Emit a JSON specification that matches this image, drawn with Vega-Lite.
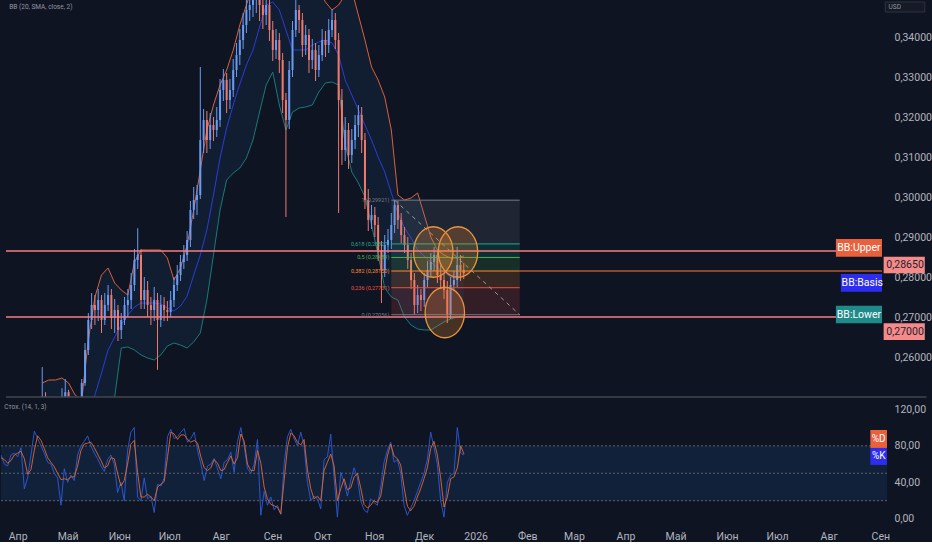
{
  "$schema": "https://vega.github.io/schema/vega-lite/v6.json",
  "background": "#0e1421",
  "padding": 0,
  "spacing": 3,
  "config": {
    "view": {"stroke": null},
    "font": "Roboto",
    "axis": {"domain": false, "ticks": false, "grid": false, "labelColor": "#b2b5be", "labelFontSize": 10.5, "labelFont": "Roboto"}
  },
  "datasets": {
    "candles": [
      {"date":"2025-04-13","o":0.2485,"h":0.2575,"l":0.247,"c":0.2502},
      {"date":"2025-04-15","o":0.2502,"h":0.2512,"l":0.247,"c":0.2488},
      {"date":"2025-04-17","o":0.2488,"h":0.2498,"l":0.2465,"c":0.2478},
      {"date":"2025-04-19","o":0.2478,"h":0.2496,"l":0.246,"c":0.2485},
      {"date":"2025-04-21","o":0.2485,"h":0.2499,"l":0.2462,"c":0.2474},
      {"date":"2025-04-23","o":0.2474,"h":0.2495,"l":0.2458,"c":0.2483},
      {"date":"2025-04-25","o":0.2483,"h":0.2522,"l":0.247,"c":0.2491},
      {"date":"2025-04-27","o":0.2491,"h":0.2545,"l":0.248,"c":0.2512},
      {"date":"2025-04-29","o":0.2512,"h":0.2518,"l":0.2468,"c":0.2482},
      {"date":"2025-05-01","o":0.2482,"h":0.2497,"l":0.2455,"c":0.2468},
      {"date":"2025-05-03","o":0.2468,"h":0.2494,"l":0.2452,"c":0.2479},
      {"date":"2025-05-05","o":0.2479,"h":0.2498,"l":0.2466,"c":0.2492},
      {"date":"2025-05-07","o":0.2492,"h":0.2545,"l":0.2485,"c":0.2535},
      {"date":"2025-05-09","o":0.2535,"h":0.2635,"l":0.2528,"c":0.26175},
      {"date":"2025-05-11","o":0.26175,"h":0.271,"l":0.2605,"c":0.26925},
      {"date":"2025-05-13","o":0.26925,"h":0.276,"l":0.267,"c":0.273},
      {"date":"2025-05-15","o":0.273,"h":0.2755,"l":0.268,"c":0.27175},
      {"date":"2025-05-17","o":0.27175,"h":0.277,"l":0.269,"c":0.27425},
      {"date":"2025-05-19","o":0.27425,"h":0.2755,"l":0.266,"c":0.26925},
      {"date":"2025-05-21","o":0.26925,"h":0.276,"l":0.268,"c":0.273},
      {"date":"2025-05-23","o":0.273,"h":0.278,"l":0.2715,"c":0.2755},
      {"date":"2025-05-25","o":0.2755,"h":0.277,"l":0.267,"c":0.26975},
      {"date":"2025-05-27","o":0.26975,"h":0.2745,"l":0.266,"c":0.27175},
      {"date":"2025-05-29","o":0.27175,"h":0.273,"l":0.264,"c":0.26675},
      {"date":"2025-05-31","o":0.26675,"h":0.271,"l":0.2645,"c":0.26925},
      {"date":"2025-06-02","o":0.26925,"h":0.275,"l":0.268,"c":0.273},
      {"date":"2025-06-04","o":0.273,"h":0.277,"l":0.27,"c":0.27425},
      {"date":"2025-06-06","o":0.27425,"h":0.281,"l":0.272,"c":0.278},
      {"date":"2025-06-08","o":0.278,"h":0.287,"l":0.2765,"c":0.28425},
      {"date":"2025-06-10","o":0.28425,"h":0.2922,"l":0.282,"c":0.2855},
      {"date":"2025-06-12","o":0.2855,"h":0.287,"l":0.272,"c":0.27425},
      {"date":"2025-06-14","o":0.27425,"h":0.28,"l":0.272,"c":0.27675},
      {"date":"2025-06-16","o":0.27675,"h":0.279,"l":0.27,"c":0.273},
      {"date":"2025-06-18","o":0.273,"h":0.275,"l":0.268,"c":0.27175},
      {"date":"2025-06-20","o":0.27175,"h":0.2775,"l":0.269,"c":0.27425},
      {"date":"2025-06-22","o":0.27425,"h":0.276,"l":0.2568,"c":0.26925},
      {"date":"2025-06-24","o":0.26925,"h":0.2755,"l":0.2675,"c":0.273},
      {"date":"2025-06-26","o":0.273,"h":0.275,"l":0.269,"c":0.27175},
      {"date":"2025-06-28","o":0.27175,"h":0.274,"l":0.269,"c":0.27125},
      {"date":"2025-06-30","o":0.27125,"h":0.2765,"l":0.27,"c":0.27425},
      {"date":"2025-07-02","o":0.27425,"h":0.28,"l":0.2725,"c":0.278},
      {"date":"2025-07-04","o":0.278,"h":0.283,"l":0.2765,"c":0.2805},
      {"date":"2025-07-06","o":0.2805,"h":0.2855,"l":0.279,"c":0.28375},
      {"date":"2025-07-08","o":0.28375,"h":0.288,"l":0.282,"c":0.2855},
      {"date":"2025-07-10","o":0.2855,"h":0.2915,"l":0.284,"c":0.28925},
      {"date":"2025-07-12","o":0.28925,"h":0.299,"l":0.2875,"c":0.29675},
      {"date":"2025-07-14","o":0.29675,"h":0.3025,"l":0.2945,"c":0.29925},
      {"date":"2025-07-16","o":0.29925,"h":0.303,"l":0.2955,"c":0.3005},
      {"date":"2025-07-18","o":0.3005,"h":0.3325,"l":0.2995,"c":0.31425},
      {"date":"2025-07-20","o":0.31425,"h":0.322,"l":0.311,"c":0.31925},
      {"date":"2025-07-22","o":0.31925,"h":0.3215,"l":0.311,"c":0.31425},
      {"date":"2025-07-24","o":0.31425,"h":0.321,"l":0.312,"c":0.318},
      {"date":"2025-07-26","o":0.318,"h":0.32,"l":0.314,"c":0.31675},
      {"date":"2025-07-28","o":0.31675,"h":0.3225,"l":0.315,"c":0.31925},
      {"date":"2025-07-30","o":0.31925,"h":0.3295,"l":0.3175,"c":0.32675},
      {"date":"2025-08-01","o":0.32675,"h":0.332,"l":0.324,"c":0.32925},
      {"date":"2025-08-03","o":0.32925,"h":0.331,"l":0.321,"c":0.32425},
      {"date":"2025-08-05","o":0.32425,"h":0.3295,"l":0.322,"c":0.32675},
      {"date":"2025-08-07","o":0.32675,"h":0.3345,"l":0.325,"c":0.33175},
      {"date":"2025-08-09","o":0.33175,"h":0.3385,"l":0.33,"c":0.3355},
      {"date":"2025-08-11","o":0.3355,"h":0.342,"l":0.333,"c":0.33925},
      {"date":"2025-08-13","o":0.33925,"h":0.346,"l":0.337,"c":0.343},
      {"date":"2025-08-15","o":0.343,"h":0.35,"l":0.341,"c":0.34675},
      {"date":"2025-08-17","o":0.34675,"h":0.352,"l":0.344,"c":0.348},
      {"date":"2025-08-19","o":0.348,"h":0.353,"l":0.345,"c":0.34925},
      {"date":"2025-08-21","o":0.34925,"h":0.354,"l":0.346,"c":0.3505},
      {"date":"2025-08-23","o":0.3505,"h":0.3535,"l":0.344,"c":0.348},
      {"date":"2025-08-25","o":0.348,"h":0.351,"l":0.342,"c":0.3455},
      {"date":"2025-08-27","o":0.3455,"h":0.352,"l":0.343,"c":0.348},
      {"date":"2025-08-29","o":0.348,"h":0.35,"l":0.339,"c":0.34175},
      {"date":"2025-08-31","o":0.34175,"h":0.344,"l":0.334,"c":0.33675},
      {"date":"2025-09-02","o":0.33675,"h":0.342,"l":0.3345,"c":0.33925},
      {"date":"2025-09-04","o":0.33925,"h":0.341,"l":0.331,"c":0.33425},
      {"date":"2025-09-06","o":0.33425,"h":0.336,"l":0.321,"c":0.32425},
      {"date":"2025-09-08","o":0.32425,"h":0.326,"l":0.295,"c":0.31925},
      {"date":"2025-09-10","o":0.31925,"h":0.334,"l":0.317,"c":0.33175},
      {"date":"2025-09-12","o":0.33175,"h":0.344,"l":0.33,"c":0.34175},
      {"date":"2025-09-14","o":0.34175,"h":0.35,"l":0.34,"c":0.34675},
      {"date":"2025-09-16","o":0.34675,"h":0.348,"l":0.341,"c":0.34425},
      {"date":"2025-09-18","o":0.34425,"h":0.346,"l":0.335,"c":0.338},
      {"date":"2025-09-20","o":0.338,"h":0.343,"l":0.3355,"c":0.3405},
      {"date":"2025-09-22","o":0.3405,"h":0.342,"l":0.331,"c":0.33425},
      {"date":"2025-09-24","o":0.33425,"h":0.3395,"l":0.332,"c":0.33675},
      {"date":"2025-09-26","o":0.33675,"h":0.3385,"l":0.329,"c":0.33175},
      {"date":"2025-09-28","o":0.33175,"h":0.338,"l":0.33,"c":0.3355},
      {"date":"2025-09-30","o":0.3355,"h":0.342,"l":0.334,"c":0.33925},
      {"date":"2025-10-02","o":0.33925,"h":0.3415,"l":0.335,"c":0.338},
      {"date":"2025-10-04","o":0.338,"h":0.3445,"l":0.336,"c":0.34175},
      {"date":"2025-10-06","o":0.34175,"h":0.347,"l":0.34,"c":0.34425},
      {"date":"2025-10-08","o":0.34425,"h":0.346,"l":0.337,"c":0.33925},
      {"date":"2025-10-10","o":0.33925,"h":0.341,"l":0.296,"c":0.32425},
      {"date":"2025-10-12","o":0.32425,"h":0.327,"l":0.308,"c":0.31175},
      {"date":"2025-10-14","o":0.31175,"h":0.32,"l":0.309,"c":0.31675},
      {"date":"2025-10-16","o":0.31675,"h":0.3185,"l":0.307,"c":0.3105},
      {"date":"2025-10-18","o":0.3105,"h":0.317,"l":0.3085,"c":0.31425},
      {"date":"2025-10-20","o":0.31425,"h":0.3205,"l":0.312,"c":0.318},
      {"date":"2025-10-22","o":0.318,"h":0.323,"l":0.315,"c":0.3205},
      {"date":"2025-10-24","o":0.3205,"h":0.3225,"l":0.311,"c":0.31425},
      {"date":"2025-10-26","o":0.31425,"h":0.316,"l":0.297,"c":0.29925},
      {"date":"2025-10-28","o":0.29925,"h":0.302,"l":0.2915,"c":0.29425},
      {"date":"2025-10-30","o":0.29425,"h":0.298,"l":0.292,"c":0.2955},
      {"date":"2025-11-01","o":0.2955,"h":0.2975,"l":0.29,"c":0.293},
      {"date":"2025-11-03","o":0.293,"h":0.295,"l":0.284,"c":0.28675},
      {"date":"2025-11-05","o":0.28675,"h":0.289,"l":0.2735,"c":0.28175},
      {"date":"2025-11-07","o":0.28175,"h":0.2905,"l":0.28,"c":0.288},
      {"date":"2025-11-09","o":0.288,"h":0.292,"l":0.286,"c":0.28925},
      {"date":"2025-11-11","o":0.28925,"h":0.296,"l":0.287,"c":0.293},
      {"date":"2025-11-13","o":0.293,"h":0.29921,"l":0.291,"c":0.298},
      {"date":"2025-11-15","o":0.298,"h":0.299,"l":0.292,"c":0.29425},
      {"date":"2025-11-17","o":0.29425,"h":0.296,"l":0.2885,"c":0.2905},
      {"date":"2025-11-19","o":0.2905,"h":0.2925,"l":0.286,"c":0.288},
      {"date":"2025-11-21","o":0.288,"h":0.29,"l":0.282,"c":0.28425},
      {"date":"2025-11-23","o":0.28425,"h":0.286,"l":0.277,"c":0.27925},
      {"date":"2025-11-25","o":0.27925,"h":0.281,"l":0.27056,"c":0.273},
      {"date":"2025-11-27","o":0.273,"h":0.278,"l":0.271,"c":0.2755},
      {"date":"2025-11-29","o":0.2755,"h":0.277,"l":0.2715,"c":0.27425},
      {"date":"2025-12-01","o":0.27425,"h":0.281,"l":0.2725,"c":0.27925},
      {"date":"2025-12-03","o":0.27925,"h":0.284,"l":0.2775,"c":0.28175},
      {"date":"2025-12-05","o":0.28175,"h":0.286,"l":0.28,"c":0.28375},
      {"date":"2025-12-07","o":0.28375,"h":0.2875,"l":0.2815,"c":0.2855},
      {"date":"2025-12-09","o":0.2855,"h":0.2865,"l":0.2785,"c":0.2805},
      {"date":"2025-12-11","o":0.2805,"h":0.283,"l":0.277,"c":0.27925},
      {"date":"2025-12-13","o":0.27925,"h":0.281,"l":0.2745,"c":0.27675},
      {"date":"2025-12-15","o":0.27675,"h":0.279,"l":0.2685,"c":0.2705},
      {"date":"2025-12-17","o":0.2705,"h":0.28,"l":0.2695,"c":0.278},
      {"date":"2025-12-19","o":0.278,"h":0.2815,"l":0.2765,"c":0.27925},
      {"date":"2025-12-21","o":0.27925,"h":0.2875,"l":0.2775,"c":0.283},
      {"date":"2025-12-23","o":0.283,"h":0.2855,"l":0.279,"c":0.28175},
      {"date":"2025-12-25","o":0.28175,"h":0.2835,"l":0.2795,"c":0.281}
    ],
    "bb": [
      {"date":"2025-04-13","u":0.2535,"b":0.23925,"l":0.23175},
      {"date":"2025-04-17","u":0.25425,"b":0.24,"l":0.23175},
      {"date":"2025-04-21","u":0.25425,"b":0.24175,"l":0.23175},
      {"date":"2025-04-25","u":0.25475,"b":0.24225,"l":0.23175},
      {"date":"2025-04-29","u":0.2535,"b":0.243,"l":0.23175},
      {"date":"2025-05-03","u":0.2505,"b":0.2435,"l":0.233},
      {"date":"2025-05-07","u":0.24925,"b":0.24425,"l":0.23425},
      {"date":"2025-05-11","u":0.26425,"b":0.24675,"l":0.23425},
      {"date":"2025-05-15","u":0.275,"b":0.2505,"l":0.23425},
      {"date":"2025-05-19","u":0.2805,"b":0.256,"l":0.23675},
      {"date":"2025-05-23","u":0.28225,"b":0.26175,"l":0.24175},
      {"date":"2025-05-27","u":0.2785,"b":0.265,"l":0.25},
      {"date":"2025-05-31","u":0.27675,"b":0.268,"l":0.26225},
      {"date":"2025-06-04","u":0.2755,"b":0.2705,"l":0.2625},
      {"date":"2025-06-08","u":0.28375,"b":0.2725,"l":0.26175},
      {"date":"2025-06-12","u":0.28675,"b":0.2735,"l":0.2605},
      {"date":"2025-06-16","u":0.28675,"b":0.2735,"l":0.25975},
      {"date":"2025-06-20","u":0.28675,"b":0.2735,"l":0.25925},
      {"date":"2025-06-24","u":0.28675,"b":0.27325,"l":0.2605},
      {"date":"2025-06-28","u":0.28475,"b":0.27225,"l":0.26275},
      {"date":"2025-07-02","u":0.27925,"b":0.2715,"l":0.2635},
      {"date":"2025-07-06","u":0.28225,"b":0.27275,"l":0.263},
      {"date":"2025-07-10","u":0.288,"b":0.27525,"l":0.26225},
      {"date":"2025-07-14","u":0.29675,"b":0.2805,"l":0.26375},
      {"date":"2025-07-18","u":0.30675,"b":0.2855,"l":0.266},
      {"date":"2025-07-22","u":0.31675,"b":0.29175,"l":0.27425},
      {"date":"2025-07-26","u":0.323,"b":0.3005,"l":0.2855},
      {"date":"2025-07-30","u":0.328,"b":0.30975,"l":0.29675},
      {"date":"2025-08-03","u":0.33175,"b":0.31725,"l":0.30425},
      {"date":"2025-08-07","u":0.33675,"b":0.323,"l":0.306},
      {"date":"2025-08-11","u":0.343,"b":0.32825,"l":0.30725},
      {"date":"2025-08-15","u":0.348,"b":0.333,"l":0.30975},
      {"date":"2025-08-19","u":0.353,"b":0.33675,"l":0.31425},
      {"date":"2025-08-23","u":0.35675,"b":0.3425,"l":0.32125},
      {"date":"2025-08-27","u":0.35925,"b":0.348,"l":0.328},
      {"date":"2025-08-31","u":0.35925,"b":0.34875,"l":0.33125},
      {"date":"2025-09-04","u":0.35675,"b":0.34675,"l":0.323},
      {"date":"2025-09-08","u":0.35425,"b":0.34175,"l":0.31675},
      {"date":"2025-09-12","u":0.3555,"b":0.33675,"l":0.32125},
      {"date":"2025-09-16","u":0.35675,"b":0.33675,"l":0.32225},
      {"date":"2025-09-20","u":0.3555,"b":0.33675,"l":0.3225},
      {"date":"2025-09-24","u":0.35425,"b":0.338,"l":0.323},
      {"date":"2025-09-28","u":0.35175,"b":0.33875,"l":0.32625},
      {"date":"2025-10-02","u":0.34875,"b":0.33925,"l":0.3285},
      {"date":"2025-10-06","u":0.34675,"b":0.3385,"l":0.32875},
      {"date":"2025-10-10","u":0.348,"b":0.3355,"l":0.328},
      {"date":"2025-10-14","u":0.3505,"b":0.32925,"l":0.313},
      {"date":"2025-10-18","u":0.35175,"b":0.3255,"l":0.30625},
      {"date":"2025-10-22","u":0.3455,"b":0.32175,"l":0.3035},
      {"date":"2025-10-26","u":0.33925,"b":0.318,"l":0.3},
      {"date":"2025-10-30","u":0.3325,"b":0.31425,"l":0.293},
      {"date":"2025-11-03","u":0.32925,"b":0.31,"l":0.2855},
      {"date":"2025-11-07","u":0.325,"b":0.30625,"l":0.27725},
      {"date":"2025-11-11","u":0.31675,"b":0.301,"l":0.275},
      {"date":"2025-11-15","u":0.3005,"b":0.296,"l":0.27425},
      {"date":"2025-11-19","u":0.29925,"b":0.29225,"l":0.27},
      {"date":"2025-11-23","u":0.29975,"b":0.28975,"l":0.268},
      {"date":"2025-11-27","u":0.301,"b":0.28675,"l":0.267},
      {"date":"2025-12-01","u":0.2955,"b":0.28525,"l":0.26675},
      {"date":"2025-12-05","u":0.29,"b":0.28375,"l":0.26675},
      {"date":"2025-12-09","u":0.28675,"b":0.28225,"l":0.26775},
      {"date":"2025-12-13","u":0.2855,"b":0.28125,"l":0.26875},
      {"date":"2025-12-17","u":0.28475,"b":0.28,"l":0.2695},
      {"date":"2025-12-21","u":0.28475,"b":0.27975,"l":0.27},
      {"date":"2025-12-25","u":0.28525,"b":0.28025,"l":0.27025}
    ],
    "stoch": [
      {"date":"2025-03-22","k":70,"d":67},{"date":"2025-03-24","k":60,"d":65},{"date":"2025-03-26","k":58,"d":61},
      {"date":"2025-03-28","k":70,"d":64},{"date":"2025-03-30","k":72,"d":70},{"date":"2025-04-01","k":68,"d":72},
      {"date":"2025-04-03","k":78,"d":74},{"date":"2025-04-05","k":33,"d":66},{"date":"2025-04-07","k":45,"d":49},
      {"date":"2025-04-09","k":70,"d":54},{"date":"2025-04-11","k":96,"d":75},{"date":"2025-04-13","k":88,"d":91},
      {"date":"2025-04-15","k":80,"d":86},{"date":"2025-04-17","k":72,"d":77},{"date":"2025-04-19","k":62,"d":67},
      {"date":"2025-04-21","k":60,"d":62},{"date":"2025-04-23","k":50,"d":57},{"date":"2025-04-25","k":45,"d":50},
      {"date":"2025-04-27","k":15,"d":43},{"date":"2025-04-29","k":55,"d":44},{"date":"2025-05-01","k":40,"d":43},
      {"date":"2025-05-03","k":48,"d":46},{"date":"2025-05-05","k":42,"d":46},{"date":"2025-05-07","k":70,"d":58},
      {"date":"2025-05-09","k":80,"d":75},{"date":"2025-05-11","k":85,"d":82},{"date":"2025-05-13","k":91,"d":83},
      {"date":"2025-05-15","k":80,"d":84},{"date":"2025-05-17","k":72,"d":78},{"date":"2025-05-19","k":66,"d":71},
      {"date":"2025-05-21","k":58,"d":64},{"date":"2025-05-23","k":52,"d":56},{"date":"2025-05-25","k":65,"d":58},
      {"date":"2025-05-27","k":70,"d":67},{"date":"2025-05-29","k":60,"d":66},{"date":"2025-05-31","k":29,"d":50},
      {"date":"2025-06-02","k":40,"d":36},{"date":"2025-06-04","k":20,"d":42},{"date":"2025-06-06","k":75,"d":60},
      {"date":"2025-06-08","k":95,"d":82},{"date":"2025-06-10","k":100,"d":86},{"date":"2025-06-12","k":24,"d":51},
      {"date":"2025-06-14","k":20,"d":24},{"date":"2025-06-16","k":45,"d":24},{"date":"2025-06-18","k":22,"d":27},
      {"date":"2025-06-20","k":25,"d":24},{"date":"2025-06-22","k":7,"d":20},{"date":"2025-06-24","k":38,"d":35},
      {"date":"2025-06-26","k":36,"d":38},{"date":"2025-06-28","k":45,"d":41},{"date":"2025-06-30","k":90,"d":68},
      {"date":"2025-07-02","k":98,"d":95},{"date":"2025-07-04","k":88,"d":93},{"date":"2025-07-06","k":90,"d":87},
      {"date":"2025-07-08","k":95,"d":92},{"date":"2025-07-10","k":99,"d":92},{"date":"2025-07-12","k":84,"d":87},
      {"date":"2025-07-14","k":88,"d":84},{"date":"2025-07-16","k":95,"d":86},{"date":"2025-07-18","k":75,"d":83},
      {"date":"2025-07-20","k":60,"d":68},{"date":"2025-07-22","k":42,"d":56},{"date":"2025-07-24","k":58,"d":53},
      {"date":"2025-07-26","k":60,"d":56},{"date":"2025-07-28","k":66,"d":65},{"date":"2025-07-30","k":55,"d":61},
      {"date":"2025-08-01","k":44,"d":53},{"date":"2025-08-03","k":62,"d":54},{"date":"2025-08-05","k":65,"d":62},
      {"date":"2025-08-07","k":73,"d":69},{"date":"2025-08-09","k":51,"d":60},{"date":"2025-08-11","k":85,"d":67},
      {"date":"2025-08-13","k":100,"d":93},{"date":"2025-08-15","k":80,"d":85},{"date":"2025-08-17","k":55,"d":60},
      {"date":"2025-08-19","k":50,"d":53},{"date":"2025-08-21","k":60,"d":53},{"date":"2025-08-23","k":87,"d":75},
      {"date":"2025-08-25","k":4,"d":61},{"date":"2025-08-27","k":30,"d":35},{"date":"2025-08-29","k":15,"d":22},
      {"date":"2025-08-31","k":24,"d":16},{"date":"2025-09-02","k":10,"d":14.5},{"date":"2025-09-04","k":15,"d":12.7},
      {"date":"2025-09-06","k":5,"d":5.5},{"date":"2025-09-08","k":60,"d":42},{"date":"2025-09-10","k":90,"d":78},
      {"date":"2025-09-12","k":98,"d":94},{"date":"2025-09-14","k":88,"d":91},{"date":"2025-09-16","k":80,"d":84},
      {"date":"2025-09-18","k":95,"d":81},{"date":"2025-09-20","k":80,"d":87},{"date":"2025-09-22","k":40,"d":54},
      {"date":"2025-09-24","k":20,"d":33},{"date":"2025-09-26","k":25,"d":22},{"date":"2025-09-28","k":22,"d":25},
      {"date":"2025-09-30","k":11,"d":20},{"date":"2025-10-02","k":65,"d":53},{"date":"2025-10-04","k":68,"d":62},
      {"date":"2025-10-06","k":93,"d":71},{"date":"2025-10-08","k":45,"d":58},{"date":"2025-10-10","k":2,"d":20},
      {"date":"2025-10-12","k":51,"d":33},{"date":"2025-10-14","k":40,"d":44},{"date":"2025-10-16","k":25,"d":32},
      {"date":"2025-10-18","k":42,"d":34},{"date":"2025-10-20","k":56,"d":46},{"date":"2025-10-22","k":45,"d":50},
      {"date":"2025-10-24","k":20,"d":34},{"date":"2025-10-26","k":10,"d":16},{"date":"2025-10-28","k":7,"d":12},
      {"date":"2025-10-30","k":22,"d":15},{"date":"2025-11-01","k":18,"d":20},{"date":"2025-11-03","k":15,"d":18},
      {"date":"2025-11-05","k":35,"d":25},{"date":"2025-11-07","k":62,"d":48},{"date":"2025-11-09","k":75,"d":69},
      {"date":"2025-11-11","k":84,"d":82},{"date":"2025-11-13","k":62,"d":69},{"date":"2025-11-15","k":65,"d":66},
      {"date":"2025-11-17","k":50,"d":59},{"date":"2025-11-19","k":15,"d":35},{"date":"2025-11-21","k":4,"d":14},
      {"date":"2025-11-23","k":12,"d":9},{"date":"2025-11-25","k":20,"d":14},{"date":"2025-11-27","k":30,"d":24},
      {"date":"2025-11-29","k":40,"d":33},{"date":"2025-12-01","k":50,"d":44},{"date":"2025-12-03","k":65,"d":56},
      {"date":"2025-12-05","k":95,"d":77},{"date":"2025-12-07","k":78,"d":85},{"date":"2025-12-09","k":60,"d":70},
      {"date":"2025-12-11","k":20,"d":45},{"date":"2025-12-13","k":2,"d":13},{"date":"2025-12-15","k":40,"d":24},
      {"date":"2025-12-17","k":48,"d":44},{"date":"2025-12-19","k":50,"d":46},{"date":"2025-12-21","k":100,"d":56},
      {"date":"2025-12-23","k":72,"d":80},{"date":"2025-12-25","k":70,"d":71}
    ],
    "fib": [
      {"lv":"1","p":0.29921,"lo":0.28827,"label":"1 (0,29921)","date":"2025-11-11","date2":"2026-01-28"},
      {"lv":"0.618","p":0.28827,"lo":0.28489,"label":"0,618 (0,28827)","date":"2025-11-11","date2":"2026-01-28"},
      {"lv":"0.5","p":0.28489,"lo":0.2815,"label":"0,5 (0,28489)","date":"2025-11-11","date2":"2026-01-28"},
      {"lv":"0.382","p":0.2815,"lo":0.27732,"label":"0,382 (0,28150)","date":"2025-11-11","date2":"2026-01-28"},
      {"lv":"0.236","p":0.27732,"lo":0.27056,"label":"0,236 (0,27731)","date":"2025-11-11","date2":"2026-01-28"},
      {"lv":"0","p":0.27056,"lo":null,"label":"0 (0,27056)","date":"2025-11-11","date2":"2026-01-28"}
    ],
    "tags": [
      {"date":"2026-08-08","date2":"2026-09-05","mid":"2026-08-22","y1":0.2895,"y2":0.28508,"yc":0.28729,"label":"BB:Upper","kind":"upper"},
      {"date":"2026-08-11","date2":"2026-09-05","mid":"2026-08-24","y1":0.28075,"y2":0.27633,"yc":0.27854,"label":"BB:Basis","kind":"basis"},
      {"date":"2026-08-08","date2":"2026-09-05","mid":"2026-08-22","y1":0.27283,"y2":0.26842,"yc":0.27062,"label":"BB:Lower","kind":"lower"},
      {"date":"2026-09-06","date2":"2026-10-01","mid":"2026-09-19","y1":0.28508,"y2":0.28092,"yc":0.283,"label":"0,28650","kind":"price"},
      {"date":"2026-09-06","date2":"2026-10-01","mid":"2026-09-19","y1":0.26842,"y2":0.26425,"yc":0.26633,"label":"0,27000","kind":"price"}
    ]
  },
  "vconcat": [
    {
      "width": 886,
      "height": 397,
      "encoding": {
        "x": {
          "field": "date",
          "type": "temporal",
          "title": null,
          "axis": null,
          "scale": {"domain": [{"year": 2025, "month": 3, "date": 22}, {"year": 2026, "month": 9, "date": 5}], "nice": false}
        }
      },
      "layer": [
        {
          "data": {"name": "bb"},
          "mark": {"type": "area", "clip": true, "color": "#142640", "opacity": 0.55},
          "encoding": {
            "y": {
              "field": "u",
              "type": "quantitative",
              "title": null,
              "scale": {"domain": [0.25, 0.34925], "zero": false, "nice": false},
              "axis": {
                "orient": "right",
                "title": null,
                "values": [0.26, 0.27, 0.28, 0.29, 0.3, 0.31, 0.32, 0.33, 0.34],
                "labelExpr": "replace(format(datum.value, '.5f'), '.', ',')",
                "labelPadding": 7
              }
            },
            "y2": {"field": "l"}
          }
        },
        {
          "data": {"name": "bb"},
          "mark": {"type": "line", "clip": true, "color": "#d9603b", "strokeWidth": 1},
          "encoding": {"y": {"field": "u", "type": "quantitative", "title": null}}
        },
        {
          "data": {"name": "bb"},
          "mark": {"type": "line", "clip": true, "color": "#1a7a78", "strokeWidth": 1},
          "encoding": {"y": {"field": "l", "type": "quantitative", "title": null}}
        },
        {
          "data": {"name": "bb"},
          "mark": {"type": "line", "clip": true, "color": "#2b3bd6", "strokeWidth": 1},
          "encoding": {"y": {"field": "b", "type": "quantitative", "title": null}}
        },
        {
          "data": {"name": "candles"},
          "mark": {"type": "rule", "clip": true, "strokeWidth": 1},
          "encoding": {
            "y": {"field": "l", "type": "quantitative", "title": null},
            "y2": {"field": "h"},
            "color": {"condition": {"test": "datum.c >= datum.o", "value": "#6a9bf2"}, "value": "#ef7a6c"}
          }
        },
        {
          "data": {"name": "candles"},
          "mark": {"type": "bar", "clip": true, "size": 2},
          "encoding": {
            "y": {"field": "o", "type": "quantitative", "title": null},
            "y2": {"field": "c"},
            "color": {"condition": {"test": "datum.c >= datum.o", "value": "#6a9bf2"}, "value": "#ef7a6c"}
          }
        },
        {
          "data": {"name": "fib"},
          "transform": [{"filter": "datum.lo != null"}],
          "mark": {"type": "rect", "opacity": 0.17},
          "encoding": {
            "x2": {"field": "date2"},
            "y": {"field": "p", "type": "quantitative", "title": null},
            "y2": {"field": "lo"},
            "color": {
              "field": "lv",
              "type": "nominal",
              "legend": null,
              "scale": {
                "domain": ["1", "0.618", "0.5", "0.382", "0.236", "0"],
                "range": ["#787b86", "#22ab94", "#4caf50", "#ff8a2e", "#f0503f", "#787b86"]
              }
            }
          }
        },
        {
          "data": {"name": "fib"},
          "mark": {"type": "rule", "strokeWidth": 1},
          "encoding": {
            "x2": {"field": "date2"},
            "y": {"field": "p", "type": "quantitative", "title": null},
            "color": {"field": "lv", "type": "nominal", "legend": null}
          }
        },
        {
          "data": {"values": [{"date": "2026-01-28", "date2": "2026-09-05", "p": 0.2815}]},
          "mark": {"type": "rule", "color": "#ff7b3a", "strokeWidth": 1.2},
          "encoding": {
            "x2": {"field": "date2"},
            "y": {"field": "p", "type": "quantitative", "title": null}
          }
        },
        {
          "data": {"values": [
            {"date": "2025-03-22", "date2": "2026-09-05", "p": 0.2865},
            {"date": "2025-03-22", "date2": "2026-09-05", "p": 0.27}
          ]},
          "mark": {"type": "rule", "color": "#f77c80", "strokeWidth": 1.5},
          "encoding": {
            "x2": {"field": "date2"},
            "y": {"field": "p", "type": "quantitative", "title": null}
          }
        },
        {
          "data": {"values": [
            {"date": "2025-11-13", "p": 0.29921},
            {"date": "2026-01-28", "p": 0.27056}
          ]},
          "mark": {"type": "line", "color": "#9598a1", "strokeWidth": 1, "strokeDash": [4, 4]},
          "encoding": {"y": {"field": "p", "type": "quantitative", "title": null}}
        },
        {
          "data": {"values": [
            {"date": "2025-12-06T12:00:00Z", "p": 0.28625},
            {"date": "2025-12-21T12:00:00Z", "p": 0.28625},
            {"date": "2025-12-13T12:00:00Z", "p": 0.27113}
          ]},
          "mark": {
            "type": "point",
            "shape": "M0.78,0C0.78,0.5523,0.4308,1,0,1C-0.4308,1,-0.78,0.5523,-0.78,0C-0.78,-0.5523,-0.4308,-1,0,-1C0.4308,-1,0.78,-0.5523,0.78,0Z",
            "size": 2550,
            "filled": true,
            "fill": "#f08c30",
            "fillOpacity": 0.25,
            "stroke": "#e8943c",
            "strokeWidth": 1.3,
            "opacity": 1
          },
          "encoding": {"y": {"field": "p", "type": "quantitative", "title": null}}
        },
        {
          "data": {"name": "fib"},
          "mark": {"type": "text", "align": "right", "baseline": "middle", "dx": -2, "fontSize": 5.5},
          "encoding": {
            "y": {"field": "p", "type": "quantitative", "title": null},
            "text": {"field": "label"},
            "color": {"field": "lv", "type": "nominal", "legend": null}
          }
        },
        {
          "data": {"name": "tags"},
          "mark": {"type": "rect", "clip": false},
          "encoding": {
            "x2": {"field": "date2"},
            "y": {"field": "y1", "type": "quantitative", "title": null},
            "y2": {"field": "y2"},
            "fill": {
              "field": "kind",
              "type": "nominal",
              "legend": null,
              "scale": {"domain": ["upper", "basis", "lower", "price"], "range": ["#e8603c", "#2d2df0", "#1e8a8a", "#f58a8a"]}
            }
          }
        },
        {
          "data": {"name": "tags"},
          "transform": [{"filter": "datum.kind != 'price'"}],
          "mark": {"type": "text", "color": "#ffffff", "fontSize": 10.5, "align": "center", "baseline": "middle"},
          "encoding": {
            "x": {"field": "mid", "type": "temporal"},
            "y": {"field": "yc", "type": "quantitative", "title": null},
            "text": {"field": "label"}
          }
        },
        {
          "data": {"name": "tags"},
          "transform": [{"filter": "datum.kind == 'price'"}],
          "mark": {"type": "text", "color": "#1e222d", "fontSize": 10.5, "align": "center", "baseline": "middle"},
          "encoding": {
            "x": {"field": "mid", "type": "temporal"},
            "y": {"field": "yc", "type": "quantitative", "title": null},
            "text": {"field": "label"}
          }
        },
        {
          "data": {"values": [{"date": "2026-09-07", "date2": "2026-10-01", "p": 0.34875, "p2": 0.34625}]},
          "mark": {"type": "rect", "fill": "#151a26", "stroke": "#2e3340", "strokeWidth": 1},
          "encoding": {
            "x2": {"field": "date2"},
            "y": {"field": "p", "type": "quantitative", "title": null},
            "y2": {"field": "p2"}
          }
        },
        {
          "data": {"values": [
            {"date": "2026-09-09", "p": 0.3475, "t": "USD"},
            {"date": "2025-03-24", "p": 0.3475, "t": "BB (20, SMA, close, 2)"}
          ]},
          "mark": {"type": "text", "align": "left", "baseline": "middle", "fontSize": 6.5, "color": "#9598a1"},
          "encoding": {
            "y": {"field": "p", "type": "quantitative", "title": null},
            "text": {"field": "t"}
          }
        },
        {
          "data": {"values": [{"date": "2025-03-22", "date2": "2026-10-02", "p": 0.25}]},
          "mark": {"type": "rule", "color": "#434651", "strokeWidth": 1.5, "clip": false},
          "encoding": {
            "x2": {"field": "date2"},
            "y": {"field": "p", "type": "quantitative", "title": null}
          }
        }
      ]
    },
    {
      "width": 886,
      "height": 127,
      "encoding": {
        "x": {
          "field": "date",
          "type": "temporal",
          "title": null,
          "scale": {"domain": [{"year": 2025, "month": 3, "date": 22}, {"year": 2026, "month": 9, "date": 5}], "nice": false},
          "axis": {
            "orient": "bottom",
            "title": null,
            "tickCount": {"interval": "month", "step": 1},
            "labelExpr": "month(datum.value) == 0 ? '' + year(datum.value) : ['Янв','Фев','Мар','Апр','Май','Июн','Июл','Авг','Сен','Окт','Ноя','Дек'][month(datum.value)]",
            "labelPadding": 3,
            "labelFlush": false,
            "labelOverlap": false
          }
        }
      },
      "layer": [
        {
          "data": {"values": [{"date": "2025-03-22", "date2": "2026-09-05", "a": 20, "b": 80}]},
          "mark": {"type": "rect", "color": "#12213a"},
          "encoding": {
            "x2": {"field": "date2"},
            "y": {
              "field": "a",
              "type": "quantitative",
              "title": null,
              "scale": {"domain": [-9.9, 129.1], "zero": false, "nice": false},
              "axis": {
                "orient": "right",
                "title": null,
                "values": [0, 40, 80, 120],
                "labelExpr": "replace(format(datum.value, '.2f'), '.', ',')",
                "labelPadding": 7
              }
            },
            "y2": {"field": "b"}
          }
        },
        {
          "data": {"values": [
            {"date": "2025-03-22", "date2": "2026-09-05", "v": 80},
            {"date": "2025-03-22", "date2": "2026-09-05", "v": 50},
            {"date": "2025-03-22", "date2": "2026-09-05", "v": 20}
          ]},
          "mark": {"type": "rule", "color": "#5d606b", "strokeDash": [2, 2], "strokeWidth": 1},
          "encoding": {
            "x2": {"field": "date2"},
            "y": {"field": "v", "type": "quantitative", "title": null}
          }
        },
        {
          "data": {"name": "stoch"},
          "mark": {"type": "line", "color": "#2b5bdc", "strokeWidth": 0.9, "clip": true},
          "encoding": {"y": {"field": "k", "type": "quantitative", "title": null}}
        },
        {
          "data": {"name": "stoch"},
          "mark": {"type": "line", "color": "#e8662a", "strokeWidth": 0.9, "clip": true},
          "encoding": {"y": {"field": "d", "type": "quantitative", "title": null}}
        },
        {
          "data": {"values": [
            {"date": "2026-08-26", "date2": "2026-09-05", "mid": "2026-08-31", "y1": 97.4, "y2": 77.7, "yc": 87.5, "label": "%D", "kind": "D"},
            {"date": "2026-08-26", "date2": "2026-09-05", "mid": "2026-08-31", "y1": 77.7, "y2": 59.1, "yc": 68.4, "label": "%K", "kind": "K"}
          ]},
          "layer": [
            {
              "mark": {"type": "rect"},
              "encoding": {
                "x2": {"field": "date2"},
                "y": {"field": "y1", "type": "quantitative", "title": null},
                "y2": {"field": "y2"},
                "fill": {"field": "kind", "type": "nominal", "legend": null, "scale": {"domain": ["D", "K"], "range": ["#f0643c", "#2d2df0"]}}
              }
            },
            {
              "mark": {"type": "text", "color": "#ffffff", "fontSize": 10, "align": "center", "baseline": "middle"},
              "encoding": {
                "x": {"field": "mid", "type": "temporal"},
                "y": {"field": "yc", "type": "quantitative", "title": null},
                "text": {"field": "label"}
              }
            }
          ]
        },
        {
          "data": {"values": [{"date": "2025-03-24", "v": 122.5, "t": "Стох. (14, 1, 3)"}]},
          "mark": {"type": "text", "align": "left", "baseline": "middle", "fontSize": 6.5, "color": "#9598a1"},
          "encoding": {
            "y": {"field": "v", "type": "quantitative", "title": null},
            "text": {"field": "t"}
          }
        }
      ]
    }
  ]
}
